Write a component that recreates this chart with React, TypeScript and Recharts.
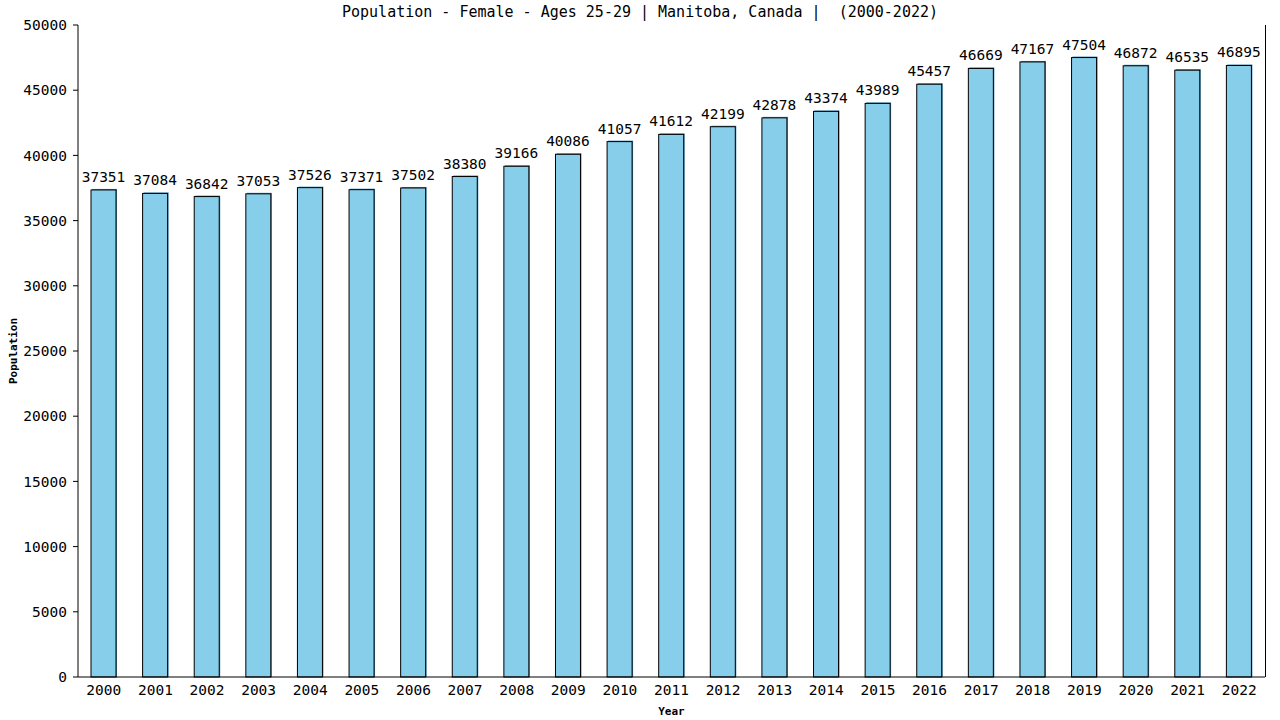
import React from 'react';
import { BarChart, Bar, XAxis, YAxis, LabelList, Label } from 'recharts';

const years = ['2000','2001','2002','2003','2004','2005','2006','2007','2008','2009','2010','2011','2012','2013','2014','2015','2016','2017','2018','2019','2020','2021','2022'];
const population = [37351,37084,36842,37053,37526,37371,37502,38380,39166,40086,41057,41612,42199,42878,43374,43989,45457,46669,47167,47504,46872,46535,46895];
const yTicks = [0,5000,10000,15000,20000,25000,30000,35000,40000,45000,50000];
const title = 'Population - Female - Ages 25-29 | Manitoba, Canada |  (2000-2022)';

const data = years.map((y, i) => ({ year: y, value: population[i] }));
const FONT = '"DejaVu Sans Mono", monospace';

const renderBar = (props: any) => {
  const x = Number(props.x), y = Number(props.y), w = Number(props.width), h = Number(props.height);
  if (!(h > 0)) return <g />;
  return (
    <g>
      <rect x={x + 1} y={y - 1} width={w} height={h + 1} fill="#4a8ab0" />
      <rect x={x} y={y} width={w} height={h} fill="#87CEEB" stroke="#000" strokeWidth={1} />
    </g>
  );
};

export default function App() {
  return (
    <div style={{ position: 'absolute', left: 0, top: 0, width: 1280, height: 720, background: '#fff' }}>
      <div style={{ position: 'absolute', left: 0, top: 3, width: 1280, textAlign: 'center', fontFamily: FONT, fontSize: 15, color: '#000', whiteSpace: 'pre' }}>
        {title}
      </div>
      <div style={{ position: 'absolute', left: 1264.5, top: 25, width: 1, height: 652, background: '#000' }} />
      <BarChart width={1280} height={720} data={data} margin={{ top: 25, right: 15, bottom: 13, left: 8 }} barSize={25}>
        <XAxis dataKey="year" tickLine={false} axisLine={{ stroke: '#000' }} tick={{ fill: '#000', fontFamily: FONT, fontSize: 14.5 }} height={30} interval={0}>
          <Label value="Year" position="insideBottom" offset={-8} style={{ fontFamily: FONT, fontSize: 11, fontWeight: 'bold', fill: '#000' }} />
        </XAxis>
        <YAxis domain={[0, 50000]} ticks={yTicks} interval={0} width={70} axisLine={{ stroke: '#000' }} tickLine={{ stroke: '#000' }} tickSize={5} tick={{ fill: '#000', fontFamily: FONT, fontSize: 14.5, dx: -4 }}>
          <Label value="Population" angle={-90} position="insideLeft" offset={5} style={{ fontFamily: FONT, fontSize: 11, fontWeight: 'bold', fill: '#000', textAnchor: 'middle' }} />
        </YAxis>
        <Bar dataKey="value" isAnimationActive={false} fill="#87CEEB" stroke="#000" strokeWidth={1} shape={renderBar}>
          <LabelList dataKey="value" position="top" offset={8} style={{ fill: '#000', fontFamily: FONT, fontSize: 14.5 }} />
        </Bar>
      </BarChart>
    </div>
  );
}
